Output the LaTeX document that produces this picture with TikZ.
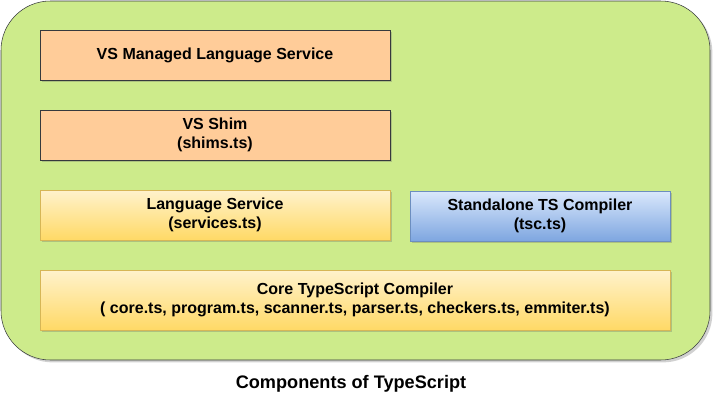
\documentclass[tikz,border=0pt]{standalone}
\usepackage{fontspec}
\setmainfont{Liberation Sans}
\usetikzlibrary{shadows}

\definecolor{layergreen}{HTML}{CDEB8B}
\definecolor{layerorange}{HTML}{FFCC99}
\definecolor{darkedge}{HTML}{36393D}
\definecolor{yellowtop}{HTML}{FFF2CC}
\definecolor{yellowbottom}{HTML}{FFD966}
\definecolor{yellowedge}{HTML}{D6B656}
\definecolor{bluetop}{HTML}{DAE8FC}
\definecolor{bluebottom}{HTML}{7EA6E0}
\definecolor{blueedge}{HTML}{6C8EBF}

\begin{document}
\begin{tikzpicture}[
        x=0.75pt, y=-0.75pt,
        every node/.style={font=\fontsize{12}{14.5}\selectfont\bfseries, align=center},
        box_shadow/.style={drop shadow={shadow xshift=1.8pt, shadow yshift=-1.8pt, opacity=0.3, fill=black!60}},
        container/.style={rectangle, draw=darkedge, fill=layergreen, rounded corners=37pt, box_shadow, minimum width=531.75pt, minimum height=269.25pt},
        vs_layer/.style={rectangle, draw=darkedge, fill=layerorange, box_shadow, minimum width=262.5pt, minimum height=37.5pt},
        ts_layer/.style={rectangle, draw=yellowedge, top color=yellowtop, bottom color=yellowbottom, box_shadow, minimum height=37.5pt},
        tsc_layer/.style={rectangle, draw=blueedge, top color=bluetop, bottom color=bluebottom, box_shadow, minimum width=195pt, minimum height=37.5pt}
    ]

        \useasboundingbox (0,0) rectangle (713,404);

        % outer box holding every layer
        \node[container] (components) at (355.5,180.5) {};

        % Visual Studio side
        \node[vs_layer] (vs_managed) at (215,55) {VS Managed Language Service};
        \node[vs_layer] (vs_shim) at (215,135) {VS Shim\\(shims.ts)};

        % services and compilers
        \node[ts_layer, minimum width=262.5pt] (lang_service) at (215,215) {Language Service\\(services.ts)};
        \node[tsc_layer] (tsc) at (540,216) {Standalone TS Compiler\\(tsc.ts)};
        \node[ts_layer, minimum width=472.5pt, minimum height=45pt] (core) at (355,300) {Core TypeScript Compiler\\( core.ts, program.ts, scanner.ts, parser.ts, checkers.ts, emmiter.ts)};

        % Caption
        \node[font=\fontsize{13.6}{16}\selectfont\bfseries] (caption) at (351,384) {Components of TypeScript};

    \end{tikzpicture}
\end{document}
